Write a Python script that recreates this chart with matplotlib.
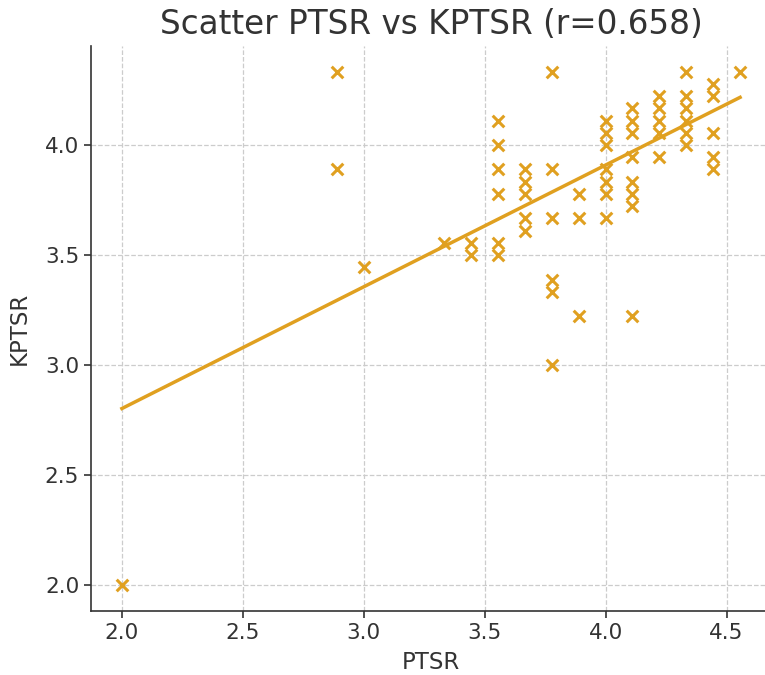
import numpy as np
import matplotlib
matplotlib.use("Agg")
import matplotlib.pyplot as plt

# PTSR / KPTSR scores (item means, steps of 1/9 and 1/18)
ptsr = [2.0,
        2.889, 2.889,
        3.0,
        3.333,
        3.444, 3.444,
        3.556, 3.556, 3.556, 3.556, 3.556, 3.556,
        3.667, 3.667, 3.667, 3.667, 3.667,
        3.778, 3.778, 3.778, 3.778, 3.778, 3.778,
        3.889, 3.889, 3.889,
        4.0, 4.0, 4.0, 4.0, 4.0, 4.0, 4.0,
        4.111, 4.111, 4.111, 4.111, 4.111, 4.111, 4.111, 4.111,
        4.222, 4.222, 4.222, 4.222, 4.222,
        4.333, 4.333, 4.333, 4.333, 4.333, 4.333,
        4.444, 4.444, 4.444, 4.444, 4.444,
        4.556]
kptsr = [2.0,
         4.333, 3.889,
         3.444,
         3.556,
         3.556, 3.5,
         4.111, 4.0, 3.889, 3.778, 3.556, 3.5,
         3.889, 3.833, 3.778, 3.667, 3.611,
         4.333, 3.889, 3.667, 3.389, 3.333, 3.0,
         3.778, 3.667, 3.222,
         4.111, 4.056, 4.0, 3.889, 3.833, 3.778, 3.667,
         4.167, 4.111, 4.056, 3.944, 3.833, 3.778, 3.722, 3.222,
         4.222, 4.167, 4.111, 4.056, 3.944,
         4.333, 4.222, 4.167, 4.111, 4.056, 4.0,
         4.278, 4.222, 4.056, 3.944, 3.889,
         4.333]

# least-squares fit (overlapping duplicates are not visible as separate marks)
fit_slope = 0.553
fit_intercept = 1.697
r_value = 0.658

x = np.array(ptsr)
y = np.array(kptsr)
xs = np.array([x.min(), x.max()])

color = "#e0a020"
text_col = "#333333"

fig = plt.figure(figsize=(7.65, 6.75), dpi=100)
ax = fig.add_axes([91 / 765, 64 / 675, 680 / 765, 565 / 675])

ax.scatter(x, y, marker="x", s=70, linewidths=2.2, color=color, zorder=3)
ax.plot(xs, fit_slope * xs + fit_intercept, color=color, linewidth=2.5, zorder=3)

ax.set_title(f"Scatter PTSR vs KPTSR (r={r_value:.3f})", fontsize=23.5,
             color=text_col, pad=9)
ax.set_xlabel("PTSR", fontsize=16.5, color=text_col, labelpad=6)
ax.set_ylabel("KPTSR", fontsize=16.5, color=text_col, labelpad=10)

ax.set_xticks([2.0, 2.5, 3.0, 3.5, 4.0, 4.5])
ax.set_yticks([2.0, 2.5, 3.0, 3.5, 4.0])
ax.tick_params(labelsize=15.5, colors=text_col, length=5, width=1.2)
ax.grid(True, linestyle="--", color="#cccccc", linewidth=0.9)
ax.set_axisbelow(True)

for side in ("top", "right"):
    ax.spines[side].set_visible(False)
for side in ("left", "bottom"):
    ax.spines[side].set_color(text_col)
    ax.spines[side].set_linewidth(1.2)

fig.savefig("out.png", dpi=100)
